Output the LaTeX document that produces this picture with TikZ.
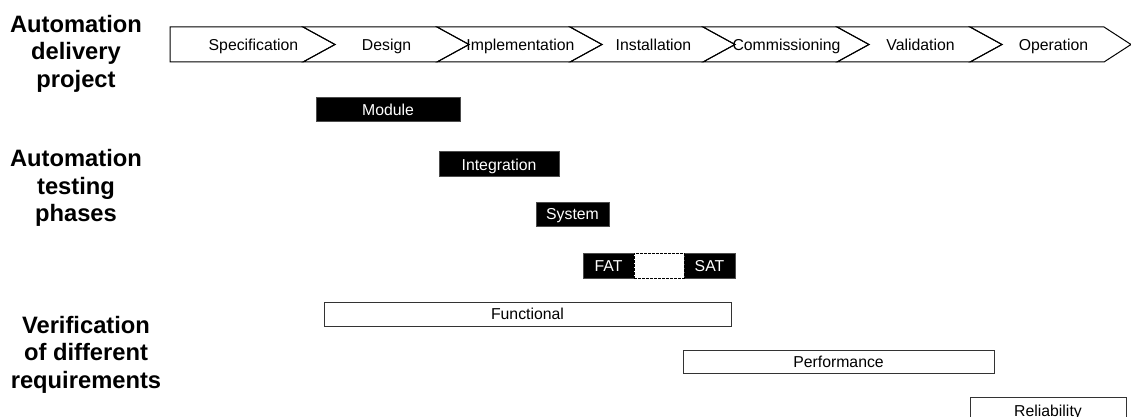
\documentclass[tikz,border=0pt]{standalone}
\usepackage{fontspec}
\setmainfont{Liberation Sans}
\begin{document}
\begin{tikzpicture}[x=0.75pt,y=-0.75pt,
  stage/.style={draw=black, line width=0.75pt, line join=miter},
  lbl/.style={font=\fontsize{11.85}{14}\selectfont, text height=8.5pt, text depth=0pt, inner sep=0pt},
  size/.style 2 args={minimum width={#1*0.75pt}, minimum height={#2*0.75pt}},
  head/.style={font=\fontsize{17.8}{20.6}\selectfont\bfseries, align=center, inner sep=0pt},
  phase/.style={lbl, fill=black, text=white, draw=black!70, line width=0.75pt},
  req/.style={lbl, fill=white, draw=black!80, line width=0.75pt},
  gap/.style={fill=white, draw=black, line width=0.75pt, dash pattern=on 2.2pt off 0.8pt, inner sep=0pt}]

\useasboundingbox (0,0) rectangle (1131,417);

% row headings
\node[head] (hproj) at (76,53.5)  {Automation\\delivery\\project};
\node[head] (htest) at (76,188)   {Automation\\testing\\phases};
\node[head] (hreq)  at (86,354.5) {Verification\\of different\\requirements};

% delivery project: chain of chevrons
\draw[stage] (170,27) -- (303,27) -- (335,44.5) -- (303,62) -- (170,62) -- cycle;
\node[lbl] (spec) at (253.5,44.5) {Specification};
\foreach \a/\b/\tip/\name/\txt in {
    303/437/32/design/Design,
    437/570/32/impl/Implementation,
    570/703/32/inst/Installation,
    703/837/32/comm/Commissioning,
    837/970/32/valid/Validation,
    970/1104/27/oper/Operation}{
  \draw[stage] (\a,27) -- (\b,27) -- (\b+\tip,44.5) -- (\b,62) -- (\a,62) -- (\a+32,44.5) -- cycle;
  \node[lbl] (\name) at (\a+83.5,44.5) {\txt};
}

% testing phases
\node[phase, size={144}{24}] (module) at (388,110)   {Module};
\node[phase, size={120}{25}] (integ)  at (499,164.5) {Integration};
\node[phase, size={73}{24}]  (system) at (572.5,214) {System};
\node[phase, size={51}{25}]  (fat)    at (608.5,265.5) {FAT};
\node[phase, size={51}{25}]  (sat)    at (709.5,265.5) {SAT};
\node[gap,   size={50}{25}]  (between) at (659,265.5) {};

% requirement verification
\node[req, size={407}{24}] (func) at (527.5,314)   {Functional};
\node[req, size={311}{23}] (perf) at (838.5,361.5) {Performance};
\node[req, size={156}{27}] (rel)  at (1048,410.5)  {Reliability};
\end{tikzpicture}
\end{document}
